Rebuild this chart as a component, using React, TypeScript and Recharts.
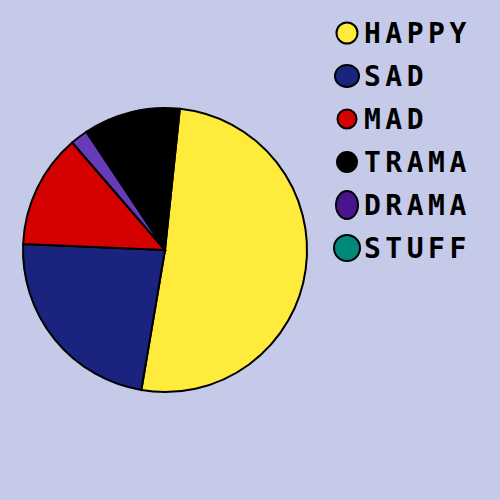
import { PieChart, Pie, Cell, Legend } from 'recharts'

// Slices, clockwise from just right of 12 o'clock
const NAMES = ['HAPPY', 'SAD', 'MAD', 'DRAMA', 'TRAMA', 'STUFF']
const VALUES = [51, 23, 13, 2, 11, 0]
const PIE_COLORS = ['#FFEB3B', '#1A237E', '#D50000', '#673AB7', '#000000', '#00897B']

// Legend order as drawn on the right
const LEGEND_NAMES = ['HAPPY', 'SAD', 'MAD', 'TRAMA', 'DRAMA', 'STUFF']
const LEGEND_COLORS = ['#FFEB3B', '#1A237E', '#D50000', '#000000', '#4A148C', '#00897B']

// marker radii (rx, ry) — hand drawn blobs
const MARKER_R: [number, number][] = [
  [10.5, 10.5],
  [12, 11],
  [9.5, 9.5],
  [10, 10],
  [11, 14],
  [13, 13],
]

const chartData = NAMES.map((name, i) => ({ name, value: VALUES[i] }))

function PaintLegend() {
  return (
    <svg width={170} height={280}>
      {LEGEND_NAMES.map((name, i) => {
        const cy = 33 + i * 43
        const [rx, ry] = MARKER_R[i]
        return (
          <g key={name}>
            <ellipse
              cx={17}
              cy={cy}
              rx={rx}
              ry={ry}
              fill={LEGEND_COLORS[i]}
              stroke="#000"
              strokeWidth={2}
            />
            <text
              x={34}
              y={cy + 10}
              fontFamily="'DejaVu Sans Mono', monospace"
              fontWeight="bold"
              fontSize={28}
              letterSpacing={4.5}
              fill="#000"
            >
              {name}
            </text>
          </g>
        )
      })}
    </svg>
  )
}

export default function App() {
  return (
    <div
      style={{
        position: 'fixed',
        left: 0,
        top: 0,
        width: 500,
        height: 500,
        background: '#C5CAE9',
      }}
    >
      <PieChart width={500} height={500} margin={{ top: 0, right: 0, bottom: 0, left: 0 }}>
        <Pie
          data={chartData}
          dataKey="value"
          nameKey="name"
          cx={165}
          cy={250}
          outerRadius={142}
          startAngle={84}
          endAngle={-276}
          stroke="#000"
          strokeWidth={2}
          isAnimationActive={false}
        >
          {chartData.map((entry, index) => (
            <Cell key={`cell-${index}`} fill={PIE_COLORS[index]} />
          ))}
        </Pie>
        <Legend
          content={() => <PaintLegend />}
          wrapperStyle={{ position: 'absolute', left: 330, top: 0, width: 170, height: 280 }}
        />
      </PieChart>
    </div>
  )
}
